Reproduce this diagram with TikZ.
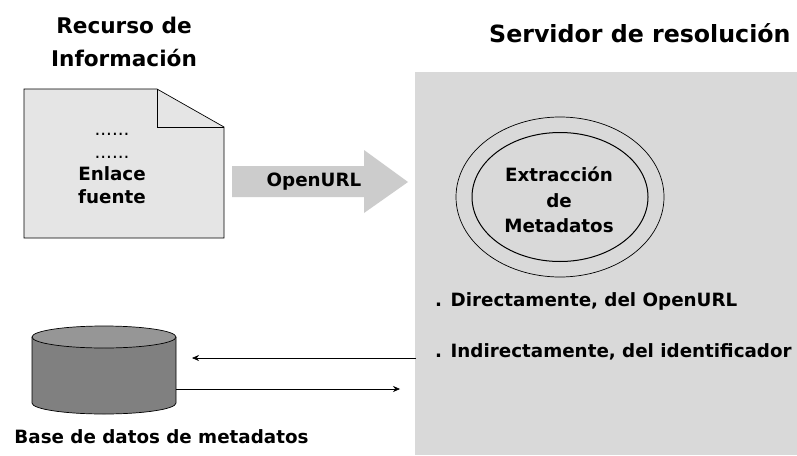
\documentclass[tikz,border=0pt]{standalone}
\usepackage{fontspec}
\setmainfont{DejaVu Sans}
\usetikzlibrary{shapes.geometric,arrows.meta}
\definecolor{panel}{HTML}{D9D9D9}
\definecolor{cylside}{HTML}{808080}
\definecolor{cyltop}{HTML}{969696}
\definecolor{docfill}{HTML}{E5E5E5}
\definecolor{arrowfill}{HTML}{CCCCCC}
\tikzset{
 big/.style={inner sep=0pt,align=center,font=\fontsize{21.6}{33}\selectfont\bfseries},
 small/.style={inner sep=0pt,align=center,font=\fontsize{18.3}{22}\selectfont\bfseries},
 thinarrow/.style={-{Stealth[length=7pt,width=6pt]},line width=.6pt}
}
\begin{document}
\begin{tikzpicture}[x=1pt,y=-1pt]
\useasboundingbox (0,0) rectangle (797,455);
\fill[white] (0,0) rectangle (797,455);
\node[big] (rec) at (124,42) {Recurso de\\Información};
\node[big,anchor=west,font=\fontsize{23.7}{29}\selectfont\bfseries] (srv) at (489,33) {Servidor de resolución};
\fill[panel] (415,72) rectangle (797,455);
\coordinate (d1) at (24,89);\coordinate (d2) at (157,89);\coordinate (d3) at (224,127);\coordinate (d4) at (224,238);\coordinate (d5) at (24,238);\coordinate (d6) at (157,127);
\draw[fill=docfill,line width=.7pt] (d1)--(d2)--(d3)--(d4)--(d5)--cycle;
\draw[line width=.8pt] (d2)--(d6)--(d3);
\node[small,font=\fontsize{18.3}{22.7}\selectfont\bfseries] (doc) at (112,168.5) {\mdseries......\\\mdseries......\\Enlace\\fuente};
\fill[arrowfill] (232,166) -- (364,166) -- (364,150) -- (408,182) -- (364,213) -- (364,197) -- (232,197) -- cycle;
\node[small] (url) at (314,182) {OpenURL};
\node[draw,ellipse,line width=.7pt,minimum width=208pt,minimum height=160pt,inner sep=0pt] (outer) at (560,197) {};
\node[draw,ellipse,line width=1pt,minimum width=176pt,minimum height=129pt,inner sep=0pt] (inner) at (560,197) {};
\node[small,font=\fontsize{18.3}{25.5}\selectfont\bfseries] (ext) at (559,200) {Extracción\\de\\Metadatos};
\node[small,anchor=west] (dir) at (435,301) {. Directamente, del OpenURL};
\node[small,anchor=west] (ind) at (435,352) {. Indirectamente, del identificador};
\draw[fill=cylside,line width=.7pt] (32,337) -- (32,403) arc[start angle=180,end angle=360,x radius=72,y radius=-11] -- (176,337);
\draw[fill=cyltop,line width=.7pt] (104,337) ellipse[x radius=72,y radius=11];
\node[small] (dbl) at (161.5,437) {Base de datos de metadatos};
\coordinate (a) at (416,358);\coordinate (b) at (192,358);\coordinate (c) at (176,389);\coordinate (e) at (400,389);
\draw[thinarrow] (a)--(b);
\draw[thinarrow] (c)--(e);
\end{tikzpicture}
\end{document}
